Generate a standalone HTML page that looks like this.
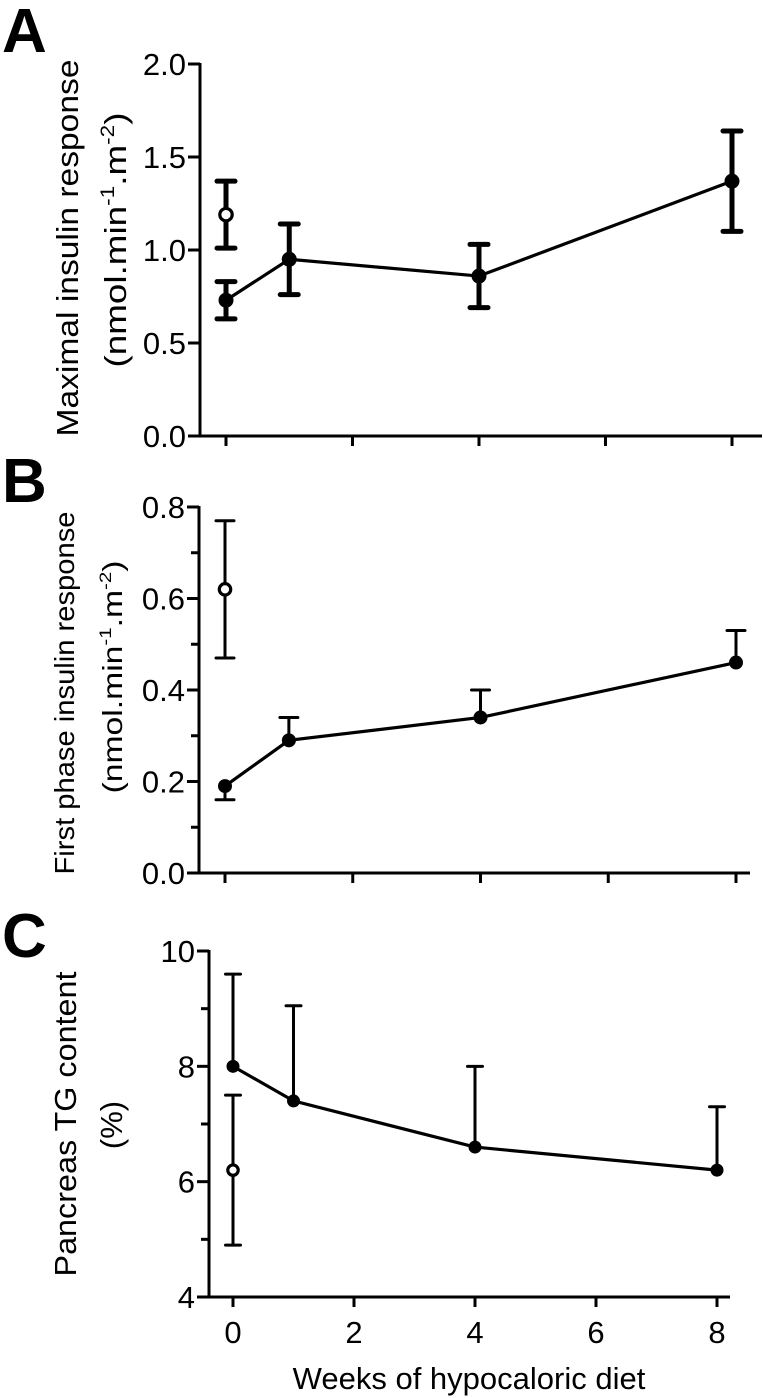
<!DOCTYPE html>
<html><head><meta charset="utf-8"><style>
html,body{margin:0;padding:0;background:#fff}
svg{display:block;font-family:"Liberation Sans",Arial,sans-serif}
</style></head><body>
<svg id="fig" width="763" height="1398" viewBox="0 0 763 1398" xmlns="http://www.w3.org/2000/svg">
<text x="2" y="52" font-size="62" font-weight="bold">A</text>
<text x="2" y="502" font-size="62" font-weight="bold">B</text>
<text x="2" y="957" font-size="62" font-weight="bold">C</text>
<text transform="translate(78,248) rotate(-90)" text-anchor="middle" font-size="31" textLength="377" lengthAdjust="spacingAndGlyphs">Maximal insulin response</text>
<text transform="translate(126,240) rotate(-90)" text-anchor="middle" font-size="31" textLength="255" lengthAdjust="spacingAndGlyphs">(nmol.min<tspan font-size="19" dy="-12">-1</tspan><tspan dy="12">.m</tspan><tspan font-size="19" dy="-12">-2</tspan><tspan dy="12">)</tspan></text>
<text transform="translate(74,693) rotate(-90)" text-anchor="middle" font-size="28" textLength="363" lengthAdjust="spacingAndGlyphs">First phase insulin response</text>
<text transform="translate(122,677) rotate(-90)" text-anchor="middle" font-size="28" textLength="233" lengthAdjust="spacingAndGlyphs">(nmol.min<tspan font-size="17" dy="-11">-1</tspan><tspan dy="11">.m</tspan><tspan font-size="17" dy="-11">-2</tspan><tspan dy="11">)</tspan></text>
<text transform="translate(76,1124) rotate(-90)" text-anchor="middle" font-size="31" textLength="305" lengthAdjust="spacingAndGlyphs">Pancreas TG content</text>
<text transform="translate(122,1125) rotate(-90)" text-anchor="middle" font-size="31">(%)</text>
<text x="469" y="1389" text-anchor="middle" font-size="31">Weeks of hypocaloric diet</text>
</svg>
<script>
// Panel A: maximal insulin response
const weeks = [0, 1, 4, 8];
const aMean = [0.73, 0.95, 0.86, 1.37];
const aLo = [0.63, 0.76, 0.69, 1.10];
const aHi = [0.83, 1.14, 1.03, 1.64];
const aOpenMean = [1.19];
const aOpenLo = [1.01];
const aOpenHi = [1.37];
const aYTicks = [0, 0.5, 1.0, 1.5, 2.0];
const aYLabels = ["0.0", "0.5", "1.0", "1.5", "2.0"];
// Panel B: first phase insulin response
const bMean = [0.19, 0.29, 0.34, 0.46];
const bErrLo = [0.16, null, null, null];
const bErrHi = [null, 0.34, 0.40, 0.53];
const bOpenMean = [0.62];
const bOpenLo = [0.47];
const bOpenHi = [0.77];
const bYTicks = [0, 0.2, 0.4, 0.6, 0.8];
const bYLabels = ["0.0", "0.2", "0.4", "0.6", "0.8"];
const bYMinor = [0.1, 0.3, 0.5, 0.7];
// Panel C: pancreas TG content
const cMean = [8.0, 7.4, 6.6, 6.2];
const cHi = [9.6, 9.05, 8.0, 7.3];
const cOpenMean = [6.2];
const cOpenLo = [4.9];
const cOpenHi = [7.5];
const cYTicks = [4, 6, 8, 10];
const cYLabels = ["4", "6", "8", "10"];
const cYMinor = [5, 7, 9];
const xTicks = [0, 2, 4, 6, 8];
const xLabels = ["0", "2", "4", "6", "8"];

const NS = "http://www.w3.org/2000/svg";
const svg = document.getElementById("fig");
function mk(tag, attrs, parent) {
  const e = document.createElementNS(NS, tag);
  for (const k in attrs) e.setAttribute(k, attrs[k]);
  (parent || svg).appendChild(e);
  return e;
}
function lin(d0, d1, r0, r1) { return v => r0 + (v - d0) / (d1 - d0) * (r1 - r0); }

function panel(cfg) {
  const g = mk("g", {});
  
  
  const X = cfg.X, Y = cfg.Y;
  const ya = mk("line", {x1: cfg.ax, x2: cfg.ax, y1: Y(cfg.yMax) - 1, y2: cfg.by + 1.5, stroke: "#000", "stroke-width": 3}, g);
  
  
  const xa = mk("line", {x1: cfg.ax - 1.5, x2: cfg.xEnd, y1: cfg.by, y2: cfg.by, stroke: "#000", "stroke-width": 3}, g);
  
  
  cfg.yTicks.forEach((v, i) => {
    const t = mk("line", {x1: cfg.ax - 12, x2: cfg.ax, y1: Y(v), y2: Y(v), stroke: "#000", "stroke-width": 3}, g);
    
    
    const l = mk("text", {x: cfg.ax - 14, y: Y(v) + 11, "text-anchor": "end", "font-size": 31}, g);
    l.textContent = cfg.yLabels[i];
    
    
  });
  (cfg.yMinor || []).forEach(v => {
    const t = mk("line", {x1: cfg.ax - 8, x2: cfg.ax, y1: Y(v), y2: Y(v), stroke: "#000", "stroke-width": 3}, g);
    
    
  });
  xTicks.forEach((v, i) => {
    const t = mk("line", {x1: X(v), x2: X(v), y1: cfg.by, y2: cfg.by + 10, stroke: "#000", "stroke-width": 3}, g);
    
    
    if (cfg.xLabels) {
      const l = mk("text", {x: X(v), y: cfg.by + 46, "text-anchor": "middle", "font-size": 31}, g);
      l.textContent = xLabels[i];
      
      
    }
  });
  const ew = cfg.ew, cw = cfg.cw;
  function bar(x, y1, y2, cap, nm) {
    const b = mk("line", {x1: x, x2: x, y1: y1, y2: y2, stroke: "#000", "stroke-width": ew}, g);
    
    
    const c = mk("line", {x1: x - cw / 2, x2: x + cw / 2, y1: cap, y2: cap, stroke: "#000", "stroke-width": ew, "stroke-linecap": "round"}, g);
    
    
  }
  cfg.openMean.forEach((m, i) => {
    if (cfg.openHi[i] != null) bar(X(0), Y(m), Y(cfg.openHi[i]), Y(cfg.openHi[i]), 'open-error-upper');
    if (cfg.openLo[i] != null) bar(X(0), Y(m), Y(cfg.openLo[i]), Y(cfg.openLo[i]), 'open-error-lower');
  });
  cfg.mean.forEach((m, i) => {
    if (cfg.hi[i] != null) bar(X(weeks[i]), Y(m), Y(cfg.hi[i]), Y(cfg.hi[i]), 'error-upper');
    if (cfg.lo[i] != null) bar(X(weeks[i]), Y(m), Y(cfg.lo[i]), Y(cfg.lo[i]), 'error-lower');
  });
  const pts = cfg.mean.map((m, i) => X(weeks[i]) + "," + Y(m)).join(" ");
  const pl = mk("polyline", {points: pts, fill: "none", stroke: "#000", "stroke-width": 3.2}, g);
  
  
  cfg.mean.forEach((m, i) => {
    const c = mk("circle", {cx: X(weeks[i]), cy: Y(m), r: cfg.r, fill: "#000"}, g);
    
    
  });
  cfg.openMean.forEach(m => {
    const c = mk("circle", {cx: X(0), cy: Y(m), r: cfg.r - 1.3, fill: "#fff", stroke: "#000", "stroke-width": 3.2}, g);
    
    
  });
}

panel({name: "panel-a-chart", X: lin(0, 8, 226, 732), Y: lin(0, 2, 436, 64), yMax: 2, ax: 200, by: 436, xEnd: 762,
  yTicks: aYTicks, yLabels: aYLabels, mean: aMean, lo: aLo, hi: aHi,
  openMean: aOpenMean, openLo: aOpenLo, openHi: aOpenHi, ew: 5, cw: 18, r: 7.5});
panel({name: "panel-b-chart", X: lin(0, 8, 225, 736), Y: lin(0, 0.8, 873, 507), yMax: 0.8, ax: 199, by: 873, xEnd: 750,
  yTicks: bYTicks, yLabels: bYLabels, yMinor: bYMinor, mean: bMean, lo: bErrLo, hi: bErrHi,
  openMean: bOpenMean, openLo: bOpenLo, openHi: bOpenHi, ew: 3, cw: 18, r: 7});
panel({name: "panel-c-chart", X: lin(0, 8, 233, 717), Y: lin(4, 10, 1297, 951), yMax: 10, ax: 209, by: 1297, xEnd: 730, xLabels: true,
  yTicks: cYTicks, yLabels: cYLabels, yMinor: cYMinor, mean: cMean, lo: [null, null, null, null], hi: cHi,
  openMean: cOpenMean, openLo: cOpenLo, openHi: cOpenHi, ew: 3, cw: 15, r: 6.5});
</script>
</body></html>
